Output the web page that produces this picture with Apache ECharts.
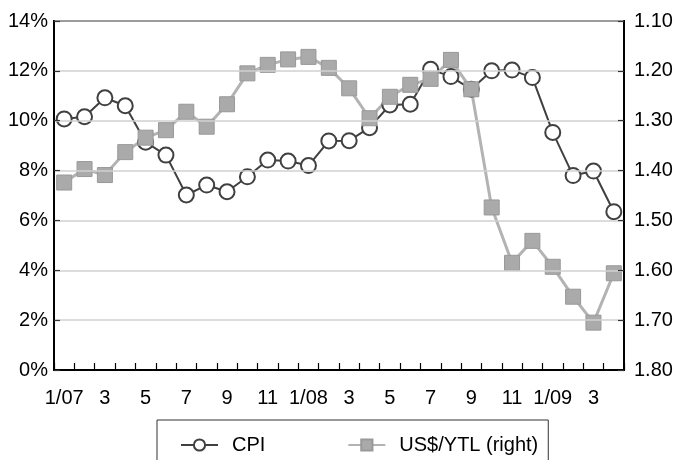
<!DOCTYPE html>
<html>
<head>
<meta charset="utf-8">
<script src="https://cdn.jsdelivr.net/npm/echarts@6/dist/echarts.min.js"></script>
<style>
  html, body { margin: 0; padding: 0; background: #fff; }
  #main { width: 690px; height: 460px; }
</style>
</head>
<body>
<div id="main"></div>
<script>
// months 1/07 .. 4/09
var months = ['1/07','2','3','4','5','6','7','8','9','10','11','12',
              '1/08','2','3','4','5','6','7','8','9','10','11','12',
              '1/09','2','3','4'];
// CPI, % (left axis)
var cpi = [10.07, 10.16, 10.92, 10.6, 9.14, 8.62, 7.02, 7.42, 7.15, 7.75, 8.42, 8.38,
           8.2, 9.19, 9.2, 9.72, 10.63, 10.66, 12.06, 11.77, 11.26, 12.0, 12.03, 11.73,
           9.53, 7.8, 7.98, 6.35];
// US$/YTL (right axis, inverted)
var usdYtl = [1.424, 1.397, 1.409, 1.363, 1.334, 1.319, 1.282, 1.312, 1.267, 1.205, 1.188, 1.177,
              1.172, 1.194, 1.235, 1.295, 1.252, 1.228, 1.216, 1.178, 1.237, 1.474, 1.585, 1.541,
              1.593, 1.653, 1.705, 1.606];

function init(){
    var font = 'Liberation Sans, Arial, sans-serif';
    var option = {
        animation: false,
        textStyle: { fontFamily: font },
        grid: {
            left: 54, right: 66, top: 21, bottom: 90,
            show: true,
            borderColor: '#000',
            borderWidth: 2
        },
        legend: {
            data: ['CPI', 'US$/YTL (right)'],
            left: 157,
            top: 420,
            padding: [15, 10, 20, 23],
            borderColor: '#333',
            borderWidth: 1,
            itemWidth: 37,
            itemHeight: 14,
            itemGap: 82,
            textStyle: { color: '#000', fontSize: 20, fontFamily: font, padding: [0, 0, 0, 9] }
        },
        xAxis: {
            type: 'category',
            data: months,
            boundaryGap: true,
            z: 5,
            axisLine: { lineStyle: { color: '#000', width: 2 } },
            axisTick: { show: true, inside: true, length: 7, interval: 0, lineStyle: { color: '#000', width: 1.2 } },
            axisLabel: { interval: 1, color: '#000', fontSize: 20, margin: 18 },
            splitLine: { show: false }
        },
        yAxis: [
            {
                type: 'value',
                min: 0, max: 14, interval: 2,
                z: 5,
                axisLine: { show: true, lineStyle: { color: '#000', width: 2 } },
                axisTick: { show: true, inside: true, length: 6, lineStyle: { color: '#333', width: 1.2 } },
                axisLabel: { formatter: '{value}%', color: '#000', fontSize: 20, margin: 6 },
                splitLine: { show: true, lineStyle: { color: '#d0d0d0', width: 1.5 } }
            },
            {
                type: 'value',
                inverse: true,
                min: 1.1, max: 1.8, interval: 0.1,
                z: 5,
                axisLine: { show: true, lineStyle: { color: '#000', width: 2 } },
                axisTick: { show: true, inside: true, length: 6, lineStyle: { color: '#333', width: 1.2 } },
                axisLabel: {
                    color: '#000', fontSize: 20, margin: 10,
                    formatter: function (v) { return v.toFixed(2); }
                },
                splitLine: { show: false }
            }
        ],
        series: [
            {
                name: 'CPI',
                type: 'line',
                yAxisIndex: 0,
                data: cpi,
                symbol: 'circle',
                symbolSize: 15,
                showAllSymbol: true,
                lineStyle: { color: '#404040', width: 2 },
                itemStyle: { color: '#fff', borderColor: '#404040', borderWidth: 2 }
            },
            {
                name: 'US$/YTL (right)',
                type: 'line',
                yAxisIndex: 1,
                data: usdYtl,
                symbol: 'rect',
                symbolSize: 15,
                showAllSymbol: true,
                lineStyle: { color: '#b3b3b3', width: 3 },
                itemStyle: { color: '#aaaaaa', borderColor: '#999', borderWidth: 1 }
            }
        ]
    };
    var myChart = echarts.init(document.getElementById('main'));
    myChart.setOption(option);
}
init();
</script>
</body>
</html>
